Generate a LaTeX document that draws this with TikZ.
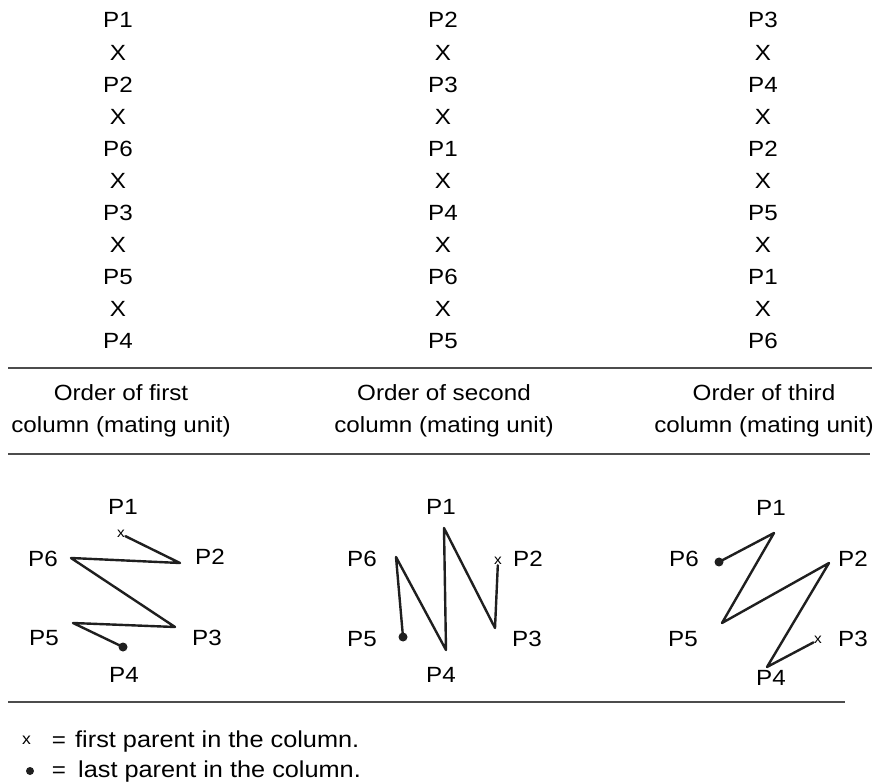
\documentclass[tikz,border=0pt]{standalone}
\usepackage{fontspec}
\setmainfont[FakeStretch=1.1]{Liberation Sans}
\begin{document}
\begin{tikzpicture}[x=1pt,y=-1pt,
  lbl/.style={anchor=base,inner sep=0pt,font=\fontsize{22}{26}\selectfont},
  legendtext/.style={anchor=base west,inner sep=0pt,font=\fontsize{23}{27}\selectfont},
  rule/.style={draw=black!70,line width=1.3pt},
  zig/.style={draw=black!88,line width=2.4pt,line join=round,line cap=round},
  firstmark/.style={inner sep=0.4pt,font=\fontsize{14}{14}\selectfont},
  lastmark/.style={circle,fill=black!88,inner sep=0pt,minimum size=9pt},
]
\useasboundingbox (0,0) rectangle (879,783);

% ---- crossing sequences of the three columns ----
\foreach \t [count=\k from 0] in {P1,X,P2,X,P6,X,P3,X,P5,X,P4}
  \node[lbl] (ga\k) at (118, 28+32.1*\k) {\t};
\foreach \t [count=\k from 0] in {P2,X,P3,X,P1,X,P4,X,P6,X,P5}
  \node[lbl] (gb\k) at (443, 28+32.1*\k) {\t};
\foreach \t [count=\k from 0] in {P3,X,P4,X,P2,X,P5,X,P1,X,P6}
  \node[lbl] (gc\k) at (763, 28+32.1*\k) {\t};

% ---- rules ----
\coordinate (r1w) at (8,368);  \coordinate (r1e) at (872,368);
\coordinate (r2w) at (8,454);  \coordinate (r2e) at (870,454);
\coordinate (r3w) at (8,702);  \coordinate (r3e) at (845,702);
\draw[rule] (r1w) -- (r1e);
\draw[rule] (r2w) -- (r2e);
\draw[rule] (r3w) -- (r3e);

% ---- captions ----
\node[lbl] (capa1) at (121,401) {Order of first};
\node[lbl] (capa2) at (121,433) {column (mating unit)};
\node[lbl] (capb1) at (444,401) {Order of second};
\node[lbl] (capb2) at (444,433) {column (mating unit)};
\node[lbl] (capc1) at (764,401) {Order of third};
\node[lbl] (capc2) at (764,433) {column (mating unit)};

% ---- first mating unit ----
\node[lbl] (ap1) at (123,515) {P1};
\node[lbl] (ap2) at (210,565) {P2};
\node[lbl] (ap3) at (207,645) {P3};
\node[lbl] (ap4) at (124,682) {P4};
\node[lbl] (ap5) at (44,645) {P5};
\node[lbl] (ap6) at (43,567) {P6};
\node[firstmark] (ax) at (121,534) {x};
\coordinate (av2) at (180,563);
\coordinate (av6) at (71,558);
\coordinate (av3) at (175,627);
\coordinate (av5) at (73,623);
\node[lastmark] (adot) at (123,647) {};
\draw[zig] (ax) -- (av2) -- (av6) -- (av3) -- (av5) -- (adot.center);

% ---- second mating unit ----
\node[lbl] (bp1) at (441,515) {P1};
\node[lbl] (bp2) at (528,567) {P2};
\node[lbl] (bp3) at (527,646) {P3};
\node[lbl] (bp4) at (441,682) {P4};
\node[lbl] (bp5) at (362,646) {P5};
\node[lbl] (bp6) at (362,566) {P6};
\node[firstmark] (bx) at (498,561) {x};
\coordinate (bv3) at (495,628);
\coordinate (bv1) at (444,528);
\coordinate (bv4) at (446,650);
\coordinate (bv6) at (396,557);
\node[lastmark] (bdot) at (403,637) {};
\draw[zig] (bx) -- (bv3) -- (bv1) -- (bv4) -- (bv6) -- (bdot.center);

% ---- third mating unit ----
\node[lbl] (cp1) at (771,516) {P1};
\node[lbl] (cp2) at (853,566) {P2};
\node[lbl] (cp3) at (853,646) {P3};
\node[lbl] (cp4) at (771,685) {P4};
\node[lbl] (cp5) at (683,646) {P5};
\node[lbl] (cp6) at (684,566) {P6};
\node[firstmark] (cx) at (818,640) {x};
\coordinate (cv4) at (767,667);
\coordinate (cv2) at (829,563);
\coordinate (cv5) at (722,623);
\coordinate (cv1) at (774,533);
\node[lastmark] (cdot) at (719,562) {};
\draw[zig] (cx) -- (cv4) -- (cv2) -- (cv5) -- (cv1) -- (cdot.center);

% ---- key ----
\node[firstmark,anchor=base,inner sep=0pt,font=\fontsize{16}{16}\selectfont] (kx) at (26.5,744) {x};
\node[lbl] (keq1) at (59,747) {=};
\node[legendtext] (kt1) at (75,747) {first parent in the column.};
\node[lastmark,minimum size=8pt] (kdot) at (30,771) {};
\node[lbl] (keq2) at (59,777) {=};
\node[legendtext] (kt2) at (78,777) {last parent in the column.};
\end{tikzpicture}
\end{document}
